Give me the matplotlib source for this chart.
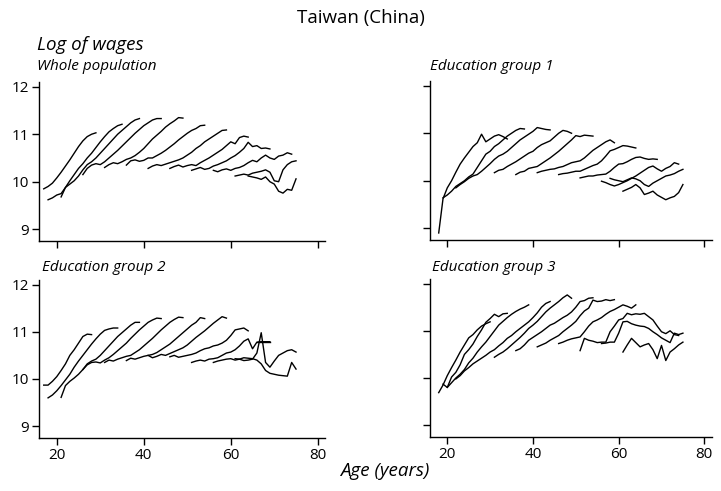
import matplotlib
matplotlib.use("Agg")
import matplotlib.pyplot as plt
import numpy as np

plt.rcParams["font.family"] = ["Open Sans", "DejaVu Sans"]

# cohort start ages and log-wage profiles (one value per year of age)
whole_start = [17, 18, 21, 26, 31, 36, 41, 46, 51, 56, 61, 64]
whole_logw = [
    [9.85, 9.9, 9.97, 10.08, 10.2, 10.33, 10.46, 10.6, 10.74, 10.86, 10.95, 11.0, 11.03],
    [9.62, 9.66, 9.72, 9.75, 9.88, 10.02, 10.15, 10.28, 10.38, 10.5, 10.6, 10.72, 10.84, 10.95, 11.05, 11.12, 11.18, 11.21],
    [9.68, 9.88, 9.95, 10.02, 10.12, 10.25, 10.36, 10.42, 10.5, 10.6, 10.7, 10.8, 10.9, 11.0, 11.08, 11.16, 11.24, 11.3, 11.33],
    [10.15, 10.28, 10.35, 10.38, 10.36, 10.42, 10.5, 10.58, 10.66, 10.75, 10.84, 10.93, 11.02, 11.1, 11.18, 11.24, 11.3, 11.33, 11.33],
    [10.3, 10.36, 10.4, 10.38, 10.42, 10.47, 10.5, 10.55, 10.62, 10.7, 10.8, 10.9, 10.98, 11.06, 11.15, 11.22, 11.28, 11.35, 11.34],
    [10.35, 10.44, 10.46, 10.43, 10.45, 10.5, 10.5, 10.55, 10.6, 10.66, 10.73, 10.8, 10.88, 10.95, 11.02, 11.08, 11.12, 11.18, 11.19],
    [10.28, 10.33, 10.36, 10.34, 10.37, 10.4, 10.43, 10.46, 10.5, 10.56, 10.62, 10.7, 10.76, 10.84, 10.9, 10.96, 11.02, 11.08, 11.09],
    [10.28, 10.32, 10.35, 10.31, 10.34, 10.36, 10.34, 10.4, 10.45, 10.5, 10.56, 10.62, 10.68, 10.76, 10.84, 10.8, 10.93, 10.96, 10.94],
    [10.24, 10.27, 10.3, 10.26, 10.28, 10.33, 10.36, 10.4, 10.44, 10.5, 10.55, 10.62, 10.7, 10.83, 10.74, 10.76, 10.7, 10.71, 10.69],
    [10.24, 10.21, 10.25, 10.27, 10.24, 10.28, 10.3, 10.34, 10.4, 10.45, 10.42, 10.5, 10.56, 10.5, 10.47, 10.54, 10.56, 10.61, 10.58],
    [10.12, 10.14, 10.16, 10.14, 10.18, 10.2, 10.22, 10.25, 10.2, 10.02, 10.0, 10.25, 10.36, 10.42, 10.44],
    [10.12, 10.1, 10.08, 10.05, 10.1, 10.0, 9.95, 9.8, 9.76, 9.84, 9.82, 10.06],
]

edu1_start = [18, 19, 22, 31, 36, 41, 46, 51, 56, 58, 61]
edu1_logw = [
    [8.9, 9.62, 9.85, 10.0, 10.18, 10.35, 10.48, 10.6, 10.72, 10.8, 10.98, 10.82, 10.88, 10.94, 10.97, 10.93, 10.88],
    [9.64, 9.7, 9.78, 9.88, 9.94, 10.0, 10.08, 10.14, 10.28, 10.42, 10.56, 10.62, 10.72, 10.78, 10.86, 10.94, 11.0, 11.06, 11.1, 11.09],
    [9.85, 9.92, 9.98, 10.05, 10.1, 10.13, 10.2, 10.28, 10.36, 10.45, 10.52, 10.56, 10.62, 10.7, 10.78, 10.86, 10.92, 10.98, 11.04, 11.12, 11.1, 11.08, 11.07],
    [10.17, 10.22, 10.24, 10.3, 10.35, 10.4, 10.46, 10.52, 10.58, 10.62, 10.7, 10.76, 10.8, 10.84, 10.92, 11.0, 11.06, 11.04, 11.0],
    [10.13, 10.18, 10.2, 10.26, 10.28, 10.3, 10.36, 10.42, 10.48, 10.55, 10.62, 10.7, 10.78, 10.86, 10.95, 10.93, 10.96, 10.95, 10.94],
    [10.17, 10.2, 10.22, 10.24, 10.25, 10.28, 10.3, 10.34, 10.38, 10.4, 10.42, 10.48, 10.56, 10.64, 10.7, 10.76, 10.82, 10.86, 10.8],
    [10.13, 10.15, 10.16, 10.18, 10.2, 10.2, 10.24, 10.28, 10.32, 10.35, 10.42, 10.52, 10.63, 10.66, 10.7, 10.74, 10.73, 10.71, 10.69],
    [10.06, 10.08, 10.1, 10.1, 10.12, 10.13, 10.14, 10.2, 10.28, 10.35, 10.36, 10.4, 10.45, 10.49, 10.5, 10.47, 10.45, 10.46, 10.45],
    [9.99, 9.96, 9.92, 9.89, 9.92, 9.96, 10.0, 10.05, 10.1, 10.16, 10.22, 10.28, 10.31, 10.25, 10.2, 10.26, 10.3, 10.38, 10.35],
    [10.05, 10.02, 10.0, 9.98, 10.02, 10.06, 10.04, 10.0, 9.92, 9.88, 9.95, 10.0, 10.05, 10.1, 10.12, 10.15, 10.2, 10.24],
    [9.78, 9.82, 9.86, 9.92, 9.85, 9.71, 9.74, 9.78, 9.7, 9.65, 9.6, 9.64, 9.67, 9.75, 9.92],
]

edu2_start = [17, 18, 21, 26, 31, 36, 41, 46, 51, 56, 61]
edu2_logw = [
    [9.87, 9.87, 9.95, 10.05, 10.18, 10.32, 10.5, 10.62, 10.76, 10.9, 10.95, 10.94],
    [9.6, 9.66, 9.75, 9.86, 9.98, 10.1, 10.25, 10.38, 10.5, 10.62, 10.74, 10.85, 10.95, 11.03, 11.06, 11.08, 11.08],
    [9.61, 9.86, 9.95, 10.02, 10.1, 10.2, 10.32, 10.38, 10.42, 10.5, 10.6, 10.7, 10.8, 10.9, 10.98, 11.06, 11.14, 11.2, 11.2],
    [10.2, 10.3, 10.35, 10.36, 10.34, 10.4, 10.45, 10.52, 10.6, 10.68, 10.76, 10.86, 10.95, 11.04, 11.12, 11.2, 11.25, 11.29, 11.28],
    [10.35, 10.4, 10.38, 10.42, 10.45, 10.48, 10.5, 10.56, 10.62, 10.7, 10.78, 10.86, 10.95, 11.04, 11.12, 11.2, 11.26, 11.31, 11.3],
    [10.39, 10.44, 10.42, 10.45, 10.48, 10.5, 10.52, 10.56, 10.62, 10.68, 10.74, 10.82, 10.9, 10.98, 11.06, 11.14, 11.2, 11.3, 11.28],
    [10.5, 10.45, 10.48, 10.52, 10.5, 10.54, 10.58, 10.62, 10.66, 10.72, 10.8, 10.88, 10.95, 11.02, 11.1, 11.18, 11.25, 11.32, 11.29],
    [10.47, 10.5, 10.46, 10.48, 10.5, 10.52, 10.55, 10.6, 10.64, 10.66, 10.7, 10.72, 10.76, 10.82, 10.92, 11.04, 11.06, 11.08, 11.02],
    [10.35, 10.38, 10.4, 10.38, 10.42, 10.43, 10.45, 10.5, 10.55, 10.57, 10.62, 10.7, 10.8, 10.85, 10.64, 10.78, 10.79, 10.79, 10.79],
    [10.35, 10.38, 10.4, 10.42, 10.43, 10.4, 10.42, 10.39, 10.4, 10.42, 10.55, 10.98, 10.35, 10.25, 10.38, 10.5, 10.55, 10.6, 10.62, 10.57],
    [10.43, 10.42, 10.45, 10.44, 10.43, 10.4, 10.32, 10.18, 10.12, 10.1, 10.08, 10.07, 10.06, 10.35, 10.21],
]

edu3_start = [18, 19, 20, 22, 31, 36, 41, 46, 51, 56, 61]
edu3_logw = [
    [9.69, 9.85, 10.05, 10.22, 10.38, 10.55, 10.7, 10.85, 10.92, 11.02, 11.1, 11.15, 11.19],
    [9.87, 9.8, 10.02, 10.12, 10.28, 10.5, 10.6, 10.72, 10.88, 11.02, 11.18, 11.26, 11.35, 11.3, 11.36, 11.37],
    [9.8, 9.9, 10.0, 10.08, 10.18, 10.32, 10.42, 10.55, 10.66, 10.76, 10.88, 11.0, 11.12, 11.2, 11.28, 11.35, 11.41, 11.46, 11.5, 11.55],
    [9.98, 10.05, 10.15, 10.22, 10.3, 10.36, 10.42, 10.48, 10.55, 10.6, 10.68, 10.75, 10.84, 10.9, 10.98, 11.05, 11.12, 11.19, 11.28, 11.38, 11.5, 11.58, 11.62],
    [10.44, 10.5, 10.55, 10.62, 10.7, 10.78, 10.86, 10.95, 11.05, 11.12, 11.2, 11.3, 11.4, 11.48, 11.55, 11.62, 11.7, 11.76, 11.69],
    [10.58, 10.62, 10.7, 10.8, 10.86, 10.92, 10.98, 11.05, 11.12, 11.16, 11.22, 11.28, 11.33, 11.4, 11.5, 11.62, 11.64, 11.69, 11.7],
    [10.66, 10.7, 10.74, 10.8, 10.85, 10.9, 10.98, 11.05, 11.12, 11.2, 11.32, 11.42, 11.48, 11.65, 11.62, 11.63, 11.66, 11.64, 11.66],
    [10.73, 10.76, 10.8, 10.83, 10.85, 10.87, 10.98, 11.1, 11.19, 11.23, 11.28, 11.35, 11.41, 11.45, 11.5, 11.55, 11.52, 11.48, 11.55],
    [10.58, 10.84, 10.8, 10.78, 10.75, 10.76, 10.76, 10.98, 11.1, 11.23, 11.26, 11.37, 11.34, 11.36, 11.35, 11.37, 11.3, 11.23, 11.1, 10.98, 10.94, 11.0, 10.92, 10.9],
    [10.73, 10.74, 10.76, 10.76, 10.95, 11.19, 11.2, 11.15, 11.12, 11.1, 11.09, 11.05, 10.98, 10.92, 10.85, 10.8, 10.75, 10.95, 10.92, 10.95],
    [10.55, 10.7, 10.84, 10.75, 10.66, 10.7, 10.73, 10.6, 10.41, 10.69, 10.37, 10.55, 10.62, 10.7, 10.76],
]

# odd horizontal stroke on the age-67 spike in group 2
edu2_cross_age = [66, 69]
edu2_cross_logw = [10.79, 10.79]

xticks = [20, 40, 60, 80]
yticks = [9, 10, 11, 12]

fig = plt.figure(figsize=(7.21, 4.91), dpi=100)

panels = [
    ([0.054, 0.509, 0.397, 0.324], whole_start, whole_logw, True, False),
    ([0.596, 0.511, 0.391, 0.324], edu1_start, edu1_logw, False, False),
    ([0.054, 0.108, 0.397, 0.322], edu2_start, edu2_logw, True, True),
    ([0.596, 0.110, 0.391, 0.322], edu3_start, edu3_logw, False, True),
]

axes = []
for rect, starts, profiles, ylab, xlab in panels:
    ax = fig.add_axes(rect)
    for s, vals in zip(starts, profiles):
        ages = s + np.arange(len(vals))
        ax.plot(ages, vals, color="black", lw=1.0)
    ax.set_xlim(15.9, 81.7)
    ax.set_ylim(8.75, 12.1)
    ax.set_xticks(xticks)
    ax.set_yticks(yticks)
    for side in ("top", "right"):
        ax.spines[side].set_visible(False)
    for side in ("left", "bottom"):
        ax.spines[side].set_linewidth(1.0)
    ax.tick_params(direction="out", length=5, width=1.0, labelsize=11, pad=2)
    if not ylab:
        ax.set_yticklabels([])
    if not xlab:
        ax.set_xticklabels([])
    axes.append(ax)

axes[2].plot(edu2_cross_age, edu2_cross_logw, color="black", lw=1.0)

fig.text(0.5, 0.963, "Taiwan (China)", ha="center", va="center", fontsize=13.5)
fig.text(0.052, 0.908, "Log of wages", ha="left", va="center", fontsize=13.5, style="italic")
fig.text(0.052, 0.864, "Whole population", ha="left", va="center", fontsize=11, style="italic")
fig.text(0.596, 0.864, "Education group 1", ha="left", va="center", fontsize=11, style="italic")
fig.text(0.058, 0.455, "Education group 2", ha="left", va="center", fontsize=11, style="italic")
fig.text(0.599, 0.455, "Education group 3", ha="left", va="center", fontsize=11, style="italic")
fig.text(0.534, 0.040, "Age (years)", ha="center", va="center", fontsize=13.5, style="italic")

fig.savefig("out.png", dpi=100)
